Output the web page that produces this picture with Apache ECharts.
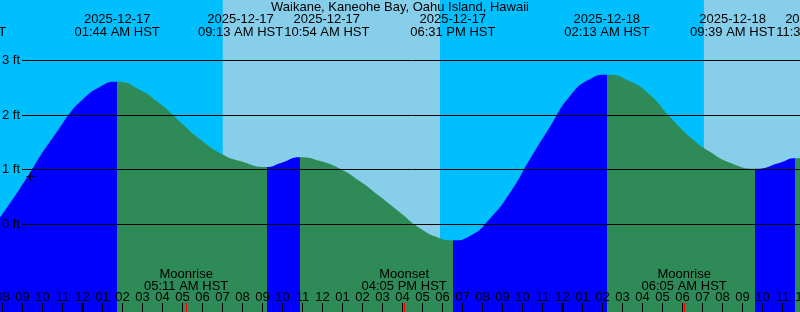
<!DOCTYPE html>
<html><head><meta charset="utf-8">
<script src="https://cdn.jsdelivr.net/npm/echarts@6/dist/echarts.min.js"></script>
<style>html,body{margin:0;padding:0;background:#00BFFF}#c{width:800px;height:312px}</style>
</head><body><div id="c"></div>
<script>
// ---------- data ----------
const stationName = 'Waikane, Kaneohe Bay, Oahu Island, Hawaii';
// hours since 2025-12-17 00:00 HST, tide height in feet
const tideHours = [-4.125, -3.125, -2.54, -2.125, -1.125, -0.71, -0.125, 0.875, 1.733, 2.875, 3.875, 4.54, 4.875, 5.875, 7.01, 7.875, 9.217, 9.875, 10.9, 11.875, 12.875, 13.875, 14.875, 15.875, 16.875, 17.875, 18.517, 19.375, 20.375, 21.375, 22.375, 23.375, 24.375, 25.375, 26.217, 27.375, 28.375, 29.375, 30.375, 31.375, 32.375, 33.65, 34.875, 35.65, 35.875];
const tideFeet = [0.13, 0.66, 1.0, 1.25, 1.78, 2.0, 2.24, 2.52, 2.61, 2.46, 2.21, 2.0, 1.88, 1.56, 1.28, 1.16, 1.05, 1.12, 1.23, 1.16, 1.02, 0.79, 0.51, 0.22, -0.07, -0.25, -0.29, -0.21, 0.11, 0.58, 1.20, 1.79, 2.35, 2.66, 2.74, 2.62, 2.37, 1.97, 1.60, 1.33, 1.13, 1.02, 1.13, 1.21, 1.21];
// high / low tide events
const eventHours = [-5.95, 1.733, 9.217, 10.9, 18.517, 26.217, 33.65, 35.65];
const eventKinds = ['L', 'H', 'L', 'H', 'L', 'H', 'L', 'H'];
const eventDates = ['2025-12-16', '2025-12-17', '2025-12-17', '2025-12-17', '2025-12-17', '2025-12-18', '2025-12-18', '2025-12-18'];
const eventClock = ['06:03 PM HST', '01:44 AM HST', '09:13 AM HST', '10:54 AM HST', '06:31 PM HST', '02:13 AM HST', '09:39 AM HST', '11:39 AM HST'];
// hour ticks
const hourTicks = [-4, -3, -2, -1, 0, 1, 2, 3, 4, 5, 6, 7, 8, 9, 10, 11, 12, 13, 14, 15, 16, 17, 18, 19, 20, 21, 22, 23, 24, 25, 26, 27, 28, 29, 30, 31, 32, 33, 34, 35, 36];
const hourLabels = ['08', '09', '10', '11', '12', '01', '02', '03', '04', '05', '06', '07', '08', '09', '10', '11', '12', '01', '02', '03', '04', '05', '06', '07', '08', '09', '10', '11', '12', '01', '02', '03', '04', '05', '06', '07', '08', '09', '10', '11', '12'];
const midnightHours = [0, 24];
// moon events
const moonHours = [5.183, 16.083, 30.083];
const moonKinds = ['Moonrise', 'Moonset', 'Moonrise'];
const moonClock = ['05:11 AM HST', '04:05 PM HST', '06:05 AM HST'];
// daylight
const sunriseHours = [7.01, 31.07];
const sunsetHours = [17.875, 41.88];
// height axis
const heightTicks = [0, 1, 2, 3];
const heightLabels = ['0 ft', '1 ft', '2 ft', '3 ft'];
// current-time mark [hour, feet]
const nowMark = [-2.6, 0.878];

// ---------- styles ----------
const FONT = "'Liberation Sans', Arial, sans-serif";
const FS = 13;
const NIGHT = '#00BFFF', DAY = '#87CEEB', FLOOD = '#0000FF', EBB = '#2E8B57';
const X_MIN = -4.125, X_MAX = 36, Y_MIN = -1.6006, Y_MAX = 4.1067;
const GRID_X0 = 22, LABEL_GAP = 1, DATE_Y = 19.5, CLOCK_Y = 32;

const ctx = document.createElement('canvas').getContext('2d');
ctx.font = FS + "px 'Liberation Sans'";
const textW = s => ctx.measureText(s).width;

function nearestIndex(arr, v) {
  let best = 0;
  for (let i = 1; i < arr.length; i++) if (Math.abs(arr[i] - v) < Math.abs(arr[best] - v)) best = i;
  return best;
}

// colour pieces: rising (flood) vs falling (ebb)
const pieces = [];
pieces.push({ lt: eventHours[0], color: eventKinds[0] === 'L' ? EBB : FLOOD });
for (let i = 0; i < eventHours.length - 1; i++) {
  pieces.push({ gte: eventHours[i], lt: eventHours[i + 1], color: eventKinds[i + 1] === 'H' ? FLOOD : EBB });
}
const lastI = eventHours.length - 1;
pieces.push({ gte: eventHours[lastI], color: eventKinds[lastI] === 'H' ? EBB : FLOOD });

function baseX(extra) {
  return Object.assign({
    type: 'value', min: X_MIN, max: X_MAX, position: 'bottom', gridIndex: 0, z: 10,
    axisLine: { show: false, onZero: false }, splitLine: { show: false }
  }, extra);
}

const chart = echarts.init(document.getElementById('c'), null, { renderer: 'canvas' });
chart.setOption({
  animation: false,
  backgroundColor: NIGHT,
  textStyle: { fontFamily: FONT },
  title: {
    text: stationName, left: 'center', top: 1, padding: 0,
    textStyle: { fontSize: FS, fontWeight: 'normal', color: '#000', fontFamily: FONT }
  },
  grid: { left: 0, right: -2.5, top: 0, bottom: 0, containLabel: false, outerBoundsMode: 'none' },
  visualMap: { type: 'piecewise', show: false, dimension: 0, seriesIndex: 0, pieces: pieces },
  xAxis: [
    baseX({
      axisTick: { show: true, inside: true, length: 9, customValues: hourTicks, lineStyle: { color: '#000', width: 1 } },
      axisLabel: {
        show: true, inside: true, margin: 8, customValues: hourTicks, color: '#000', fontSize: FS, fontFamily: FONT,
        formatter: v => hourLabels[nearestIndex(hourTicks, v)]
      }
    }),
    baseX({
      axisTick: { show: true, inside: true, length: 9, customValues: midnightHours, lineStyle: { color: '#000', width: 3 } },
      axisLabel: { show: false }
    }),
    baseX({
      axisTick: { show: true, inside: true, length: 9, customValues: moonHours, lineStyle: { color: '#FF0000', width: 1 } },
      axisLabel: {
        show: true, inside: true, margin: 20, lineHeight: 12, customValues: moonHours, color: '#000', fontSize: FS, fontFamily: FONT,
        formatter: v => { const i = nearestIndex(moonHours, v); return moonKinds[i] + '\n' + moonClock[i]; }
      }
    })
  ],
  yAxis: {
    type: 'value', min: Y_MIN, max: Y_MAX, position: 'left', z: 10,
    axisLine: { show: false, onZero: false }, axisTick: { show: false }, splitLine: { show: false },
    axisLabel: {
      inside: true, margin: 2, customValues: heightTicks, color: '#000', fontSize: FS, fontFamily: FONT,
      formatter: v => heightLabels[nearestIndex(heightTicks, v)]
    }
  },
  series: [
    {
      type: 'line', z: 2, silent: true, smooth: 0.55, showSymbol: false,
      data: tideHours.map((h, i) => [h, tideFeet[i]]),
      lineStyle: { width: 0 },
      areaStyle: { opacity: 1, origin: 'start' },
      markArea: {
        silent: true,
        itemStyle: { color: DAY, opacity: 1, borderWidth: 0 },
        data: sunriseHours.map((s, i) => [{ xAxis: s }, { xAxis: sunsetHours[i] }])
      }
    },
    {
      type: 'custom', z: 3, silent: true,
      data: heightTicks.map(v => [X_MIN, v]),
      renderItem: (params, api) => {
        const y = api.coord([api.value(0), api.value(1)])[1];
        const yy = Math.round(y - 0.5) + 0.5;
        const cs = params.coordSys;
        return { type: 'line', shape: { x1: GRID_X0, y1: yy, x2: cs.x + cs.width, y2: yy }, style: { stroke: '#000', lineWidth: 1 } };
      }
    },
    {
      type: 'scatter', z: 11, silent: true,
      data: [nowMark],
      symbol: 'path://M0,4h9v1h-9zM4,0h1v9h-1z', symbolSize: 9,
      itemStyle: { color: '#000' }
    },
    {
      type: 'custom', z: 11, silent: true, clip: false,
      data: eventHours.map(h => [h, 0]),
      renderItem: (params, api) => {
        const i = params.dataIndex;
        const cx = eventHours.map(h => api.coord([h, 0])[0]);
        const ws = eventDates.map((d, k) => Math.max(textW(d), textW(eventClock[k])));
        for (let it = 0; it < 10; it++) {
          for (let k = 0; k < cx.length - 1; k++) {
            const need = (ws[k] + ws[k + 1]) / 2 + LABEL_GAP;
            const d = cx[k + 1] - cx[k];
            if (d < need) { const s = (need - d) / 2; cx[k] -= s; cx[k + 1] += s; }
          }
        }
        const st = t => ({ text: t, textAlign: 'center', textVerticalAlign: 'middle', fill: '#000', fontSize: FS, fontFamily: FONT });
        return {
          type: 'group',
          children: [
            { type: 'text', x: cx[i], y: DATE_Y, style: st(eventDates[i]) },
            { type: 'text', x: cx[i], y: CLOCK_Y, style: st(eventClock[i]) }
          ]
        };
      }
    }
  ]
});
</script>
</body></html>
